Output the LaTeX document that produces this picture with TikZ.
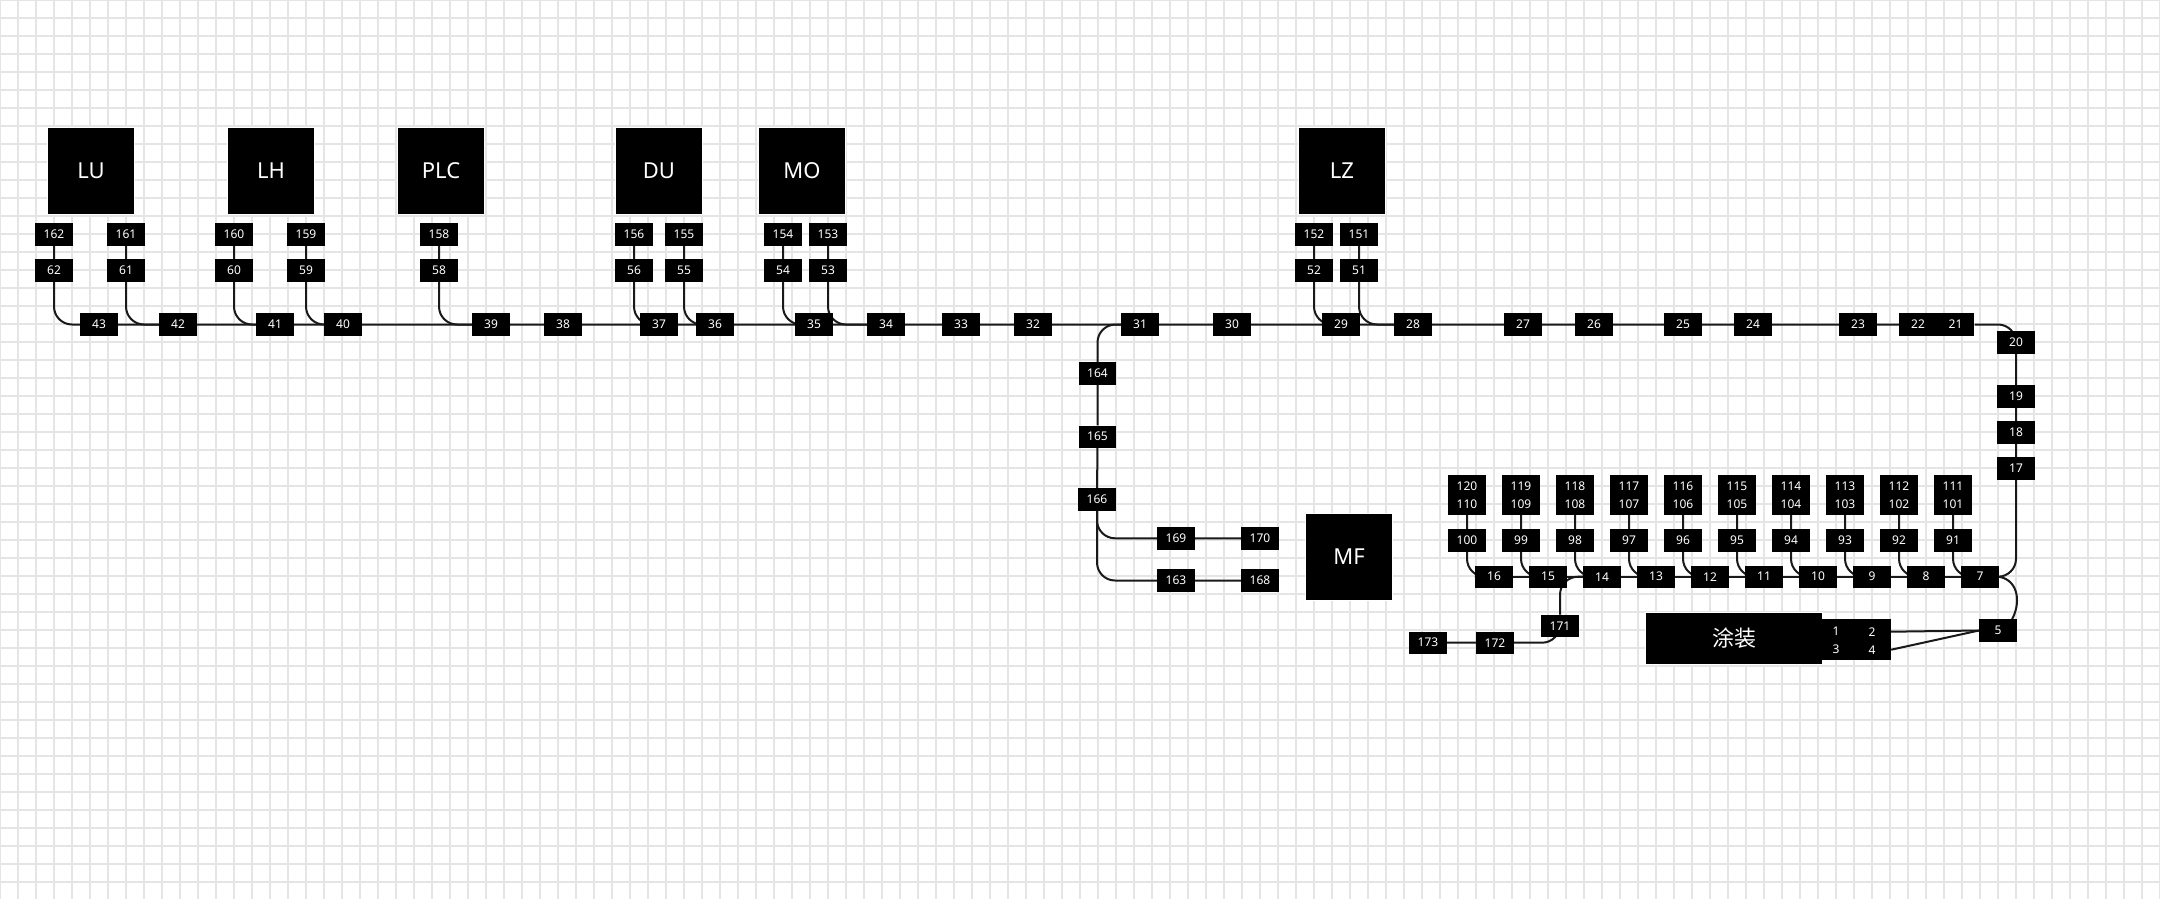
\documentclass[tikz,border=0pt]{standalone}
\usepackage{fontspec}
\setmainfont{Noto Sans}
\newfontfamily\cjkfont{Noto Sans CJK SC}
\usetikzlibrary{backgrounds}
\pgfdeclarelayer{grid}
\pgfsetlayers{grid,background,main}

\begin{document}
\begin{tikzpicture}[x=1pt,y=-1pt,
        box/.style={fill=black,text=white,inner sep=0pt,minimum width=37.7pt,
                minimum height=22.4pt,font=\fontsize{12}{18}\selectfont},
        twobox/.style={box,minimum height=40pt,align=center},
        unit/.style={fill=black,draw=white,line width=1pt,text=white,inner sep=0pt,
                minimum width=87pt,minimum height=87pt,font=\fontsize{22}{26}\selectfont},
        wire/.style={draw=black!90,line width=2pt,rounded corners=18pt}]
        \useasboundingbox (0,0) rectangle (2160,899);
        % Draw grid
        \begin{pgfonlayer}{grid}
                \fill [white] (0,0) rectangle (2160,899);
                \foreach \i in {0,18,...,2160} \draw [black!10,line width=1.7pt] (\i,0) -- (\i,899);
                \foreach \j in {0,18,...,899} \draw [black!10,line width=1.7pt] (0,\j) -- (2160,\j);
        \end{pgfonlayer}
        % Machines
        \node [unit] (LU) at (91,171) {LU};
        \node [unit] (LH) at (271,171) {LH};
        \node [unit] (PLC) at (441,171) {PLC};
        \node [unit] (DU) at (659,171) {DU};
        \node [unit] (MO) at (802,171) {MO};
        \node [unit] (LZ) at (1342,171) {LZ};
        \node [unit] (MF) at (1349,557) {MF};
        \node [unit,minimum width=177pt,minimum height=52pt,
                font=\cjkfont\fontsize{22}{26}\selectfont] (paint) at (1734,638.5) {涂装};
        \node [fill=black,inner sep=0pt,minimum width=69pt,minimum height=41pt] (pbox) at (1856.5,639.5) {};
        \node [text=white,inner sep=0pt,font=\fontsize{12}{14}\selectfont] (p1) at (1836,631.7) {1};
        \node [text=white,inner sep=0pt,font=\fontsize{12}{14}\selectfont] (p2) at (1872,631.7) {2};
        \node [text=white,inner sep=0pt,font=\fontsize{12}{14}\selectfont] (p3) at (1836,649.7) {3};
        \node [text=white,inner sep=0pt,font=\fontsize{12}{14}\selectfont] (p4) at (1872,649.7) {4};
        % Upper line
        \foreach \x/\a/\b in {54/162/62,126/161/61,234/160/60,306/159/59,439/158/58,634/156/56,
                684/155/55,783/154/54,828/153/53,1314/152/52,1359/151/51} {
                \node [box] (n\a) at (\x,234.5) {\a};
                \node [box] (n\b) at (\x,270.5) {\b};
        }
        \foreach \x/\a in {99/43,178/42,275/41,343/40,491/39,563/38,659/37,715/36,814/35,886/34,
                961/33,1033/32,1140/31,1232/30,1341/29,1413/28,1523/27,1594/26,1683/25,1753/24,
                1858/23,1918/22,1955.5/21}
                \node [box] (n\a) at (\x,324.5) {\a};
        \node [box] (n20) at (2016,342.5) {20};
        \node [box] (n19) at (2016,396.3) {19};
        \node [box] (n18) at (2016,432.3) {18};
        \node [box] (n17) at (2016,468.3) {17};
        % Branch to MF
        \node [box] (n164) at (1097.5,373.5) {164};
        \node [box] (n165) at (1097.5,436.7) {165};
        \node [box] (n166) at (1097,499.5) {166};
        \node [box] (n169) at (1176,538.3) {169};
        \node [box] (n170) at (1260,538.3) {170};
        \node [box] (n163) at (1176,580.5) {163};
        \node [box] (n168) at (1260,580.5) {168};
        % Lower line
        \foreach \x/\a/\b/\c/\d in {1467/120/110/100/16,1521/119/109/99/15,1575/118/108/98/14,
                1629/117/107/97/13,1683/116/106/96/12,1737/115/105/95/11,1791/114/104/94/10,
                1845/113/103/93/9,1899/112/102/92/8,1953/111/101/91/7} {
                \node [twobox] (n\a) at (\x,495) {\a\\\b};
                \node [box] (n\c) at (\x,540.5) {\c};
                \node [box] (n\d) at (\x+27,576.7) {\d};
        }
        \node [box] (n171) at (1560,626) {171};
        \node [box] (n172) at (1495,642.7) {172};
        \node [box] (n173) at (1428,642.7) {173};
        \node [box] (n5) at (1998,630.5) {5};
        % Draw wires
        \begin{scope}[on background layer]
                \draw [wire] (n43) -- (n42) -- (n41) -- (n40) -- (n39) -- (n38) -- (n37) -- (n36)
                        -- (n35) -- (n34) -- (n33) -- (n32) -- (n31) -- (n30) -- (n29) -- (n28)
                        -- (n27) -- (n26) -- (n25) -- (n24) -- (n23) -- (n22) -- (n21) -| (n20)
                        -- (n19) -- (n18) -- (n17) |- (n7);
                \foreach \a/\b/\c in {162/62/43,161/61/42,160/60/41,159/59/40,158/58/39,156/56/37,
                        155/55/36,154/54/35,153/53/34,152/52/29,151/51/28}
                        \draw [wire] (n\a) -- (n\b) |- (n\c);
                \draw [wire] (n31) -| (n164) -- (n165) -- (n166) |- (n169) -- (n170);
                \draw [wire] (n166) |- (n163) -- (n168);
                \foreach \a/\c/\d in {120/100/16,119/99/15,118/98/14,117/97/13,116/96/12,
                        115/95/11,114/94/10,113/93/9,112/92/8,111/91/7}
                        \draw [wire] (n\a) -- (n\c) |- (n\d);
                \draw [wire] (n16) -- (n15) -- (n14) -- (n13) -- (n12) -- (n11) -- (n10) -- (n9)
                        -- (n8) -- (n7);
                \draw [wire] (n14) -| (n171.north);
                \draw [wire] (n171.north) |- (n172) -- (n173);
                \draw [wire] (n7.east) .. controls +(21,4) and +(8,-14) .. ([xshift=-5pt]n5.north east);
                \draw [wire] (n5.west) -- (pbox.east |- p2);
                \draw [wire] (n5.west) -- (pbox.east |- p4);
        \end{scope}
\end{tikzpicture}
\end{document}
